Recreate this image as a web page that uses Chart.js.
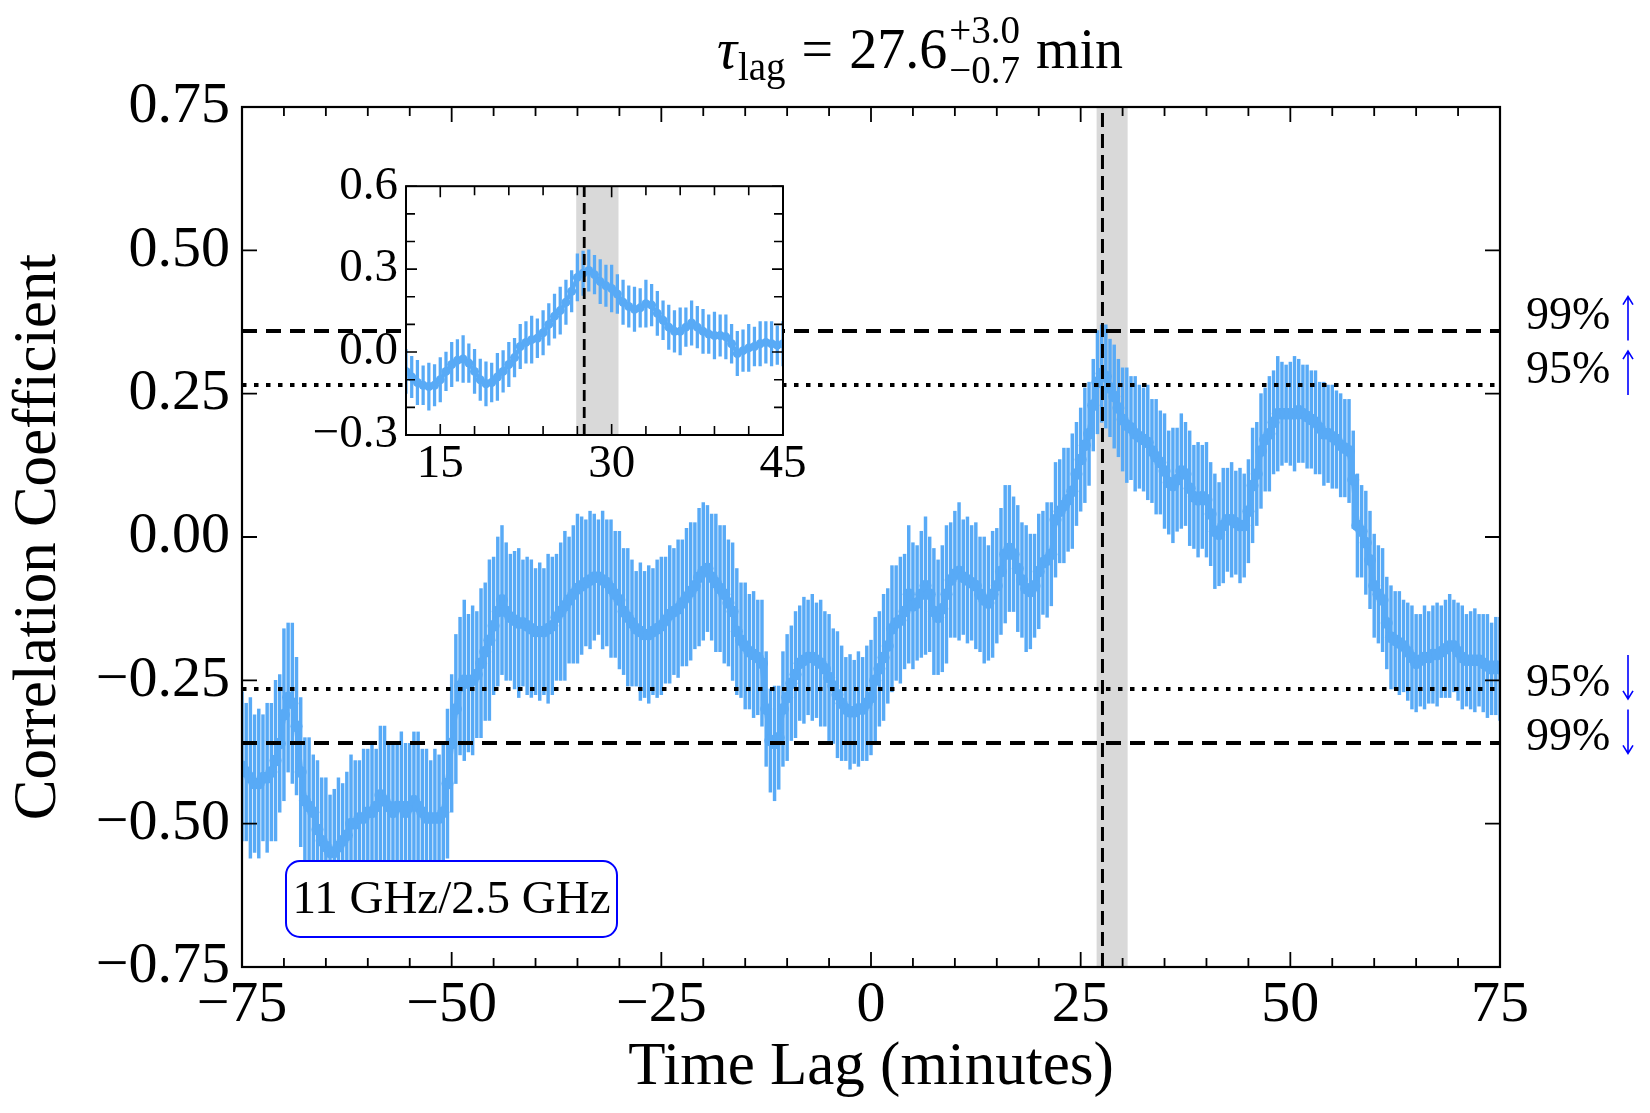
<!DOCTYPE html>
<html>
<head>
<meta charset="utf-8">
<script src="https://cdn.jsdelivr.net/npm/chart.js@4.4.0/dist/chart.umd.min.js"></script>
<style>
  html, body { margin: 0; padding: 0; background: #fff; }
  #wrap { position: relative; width: 1650px; height: 1113px; }
  #main { position: absolute; left: 0; top: 0; }
  #inset { position: absolute; left: 300px; top: 150px; }
</style>
</head>
<body>
<div id="wrap">
  <canvas id="main" width="1650" height="1113"></canvas>
  <canvas id="inset" width="520" height="340"></canvas>
</div>
<script>
// cross-correlation, lag grid -75..75 min every 0.5 min
const lagStart = -75;
const lagStep = 0.5;

const cc = [
  -0.40, -0.41, -0.42, -0.43, -0.43, -0.42, -0.42, -0.41, -0.39, -0.36,
  -0.31, -0.28, -0.29, -0.33, -0.41, -0.46, -0.47, -0.48, -0.51, -0.53,
  -0.54, -0.55, -0.55, -0.54, -0.53, -0.52, -0.50, -0.50, -0.49, -0.49,
  -0.48, -0.48, -0.47, -0.45, -0.46, -0.47, -0.48, -0.47, -0.47, -0.48,
  -0.47, -0.46, -0.47, -0.48, -0.49, -0.49, -0.49, -0.49, -0.48, -0.43,
  -0.36, -0.30, -0.26, -0.25, -0.255, -0.25, -0.24, -0.22, -0.20, -0.18,
  -0.155, -0.13, -0.11, -0.13, -0.14, -0.145, -0.15, -0.15, -0.155, -0.16,
  -0.165, -0.165, -0.165, -0.16, -0.155, -0.14, -0.13, -0.12, -0.11, -0.10,
  -0.09, -0.085, -0.08, -0.075, -0.07, -0.07, -0.075, -0.08, -0.09, -0.10,
  -0.11, -0.13, -0.14, -0.15, -0.16, -0.165, -0.17, -0.17, -0.165, -0.16,
  -0.155, -0.145, -0.135, -0.13, -0.125, -0.115, -0.105, -0.095, -0.085, -0.07,
  -0.06, -0.055, -0.07, -0.08, -0.09, -0.10, -0.115, -0.13, -0.165, -0.18,
  -0.19, -0.20, -0.205, -0.21, -0.22, -0.30, -0.355, -0.36, -0.35, -0.30,
  -0.28, -0.255, -0.24, -0.22, -0.215, -0.21, -0.21, -0.215, -0.22, -0.23,
  -0.245, -0.26, -0.275, -0.29, -0.30, -0.305, -0.305, -0.30, -0.30, -0.29,
  -0.28, -0.25, -0.23, -0.21, -0.19, -0.16, -0.15, -0.145, -0.13, -0.10,
  -0.12, -0.115, -0.10, -0.085, -0.10, -0.13, -0.14, -0.125, -0.10, -0.075,
  -0.065, -0.06, -0.07, -0.075, -0.08, -0.085, -0.10, -0.11, -0.115, -0.10,
  -0.085, -0.06, -0.03, -0.02, -0.03, -0.055, -0.075, -0.09, -0.095, -0.085,
  -0.06, -0.045, -0.04, -0.03, 0.03, 0.045, 0.055, 0.065, 0.08, 0.11,
  0.135, 0.16, 0.18, 0.23, 0.27, 0.285, 0.28, 0.26, 0.245, 0.225,
  0.205, 0.195, 0.19, 0.18, 0.175, 0.17, 0.165, 0.15, 0.14, 0.13,
  0.115, 0.095, 0.09, 0.10, 0.115, 0.11, 0.085, 0.07, 0.065, 0.07,
  0.065, 0.04, 0.01, 0.005, 0.02, 0.03, 0.03, 0.025, 0.02, 0.02,
  0.045, 0.09, 0.11, 0.15, 0.17, 0.18, 0.20, 0.215, 0.215, 0.215,
  0.215, 0.215, 0.22, 0.215, 0.21, 0.205, 0.20, 0.19, 0.18, 0.18,
  0.175, 0.17, 0.16, 0.155, 0.15, 0.10, 0.02, 0.01, -0.01, -0.04,
  -0.085, -0.10, -0.11, -0.15, -0.175, -0.18, -0.185, -0.19, -0.20, -0.21,
  -0.22, -0.215, -0.21, -0.21, -0.205, -0.205, -0.20, -0.195, -0.19, -0.19,
  -0.20, -0.21, -0.215, -0.215, -0.215, -0.215, -0.22, -0.225, -0.23, -0.225,
  -0.23
];

const ccErr = [
  0.13, 0.12, 0.14, 0.12, 0.13, 0.11, 0.13, 0.12, 0.14, 0.12,
  0.15, 0.13, 0.14, 0.12, 0.13, 0.11, 0.12, 0.10, 0.12, 0.11,
  0.12, 0.10, 0.11, 0.12, 0.10, 0.11, 0.12, 0.11, 0.10, 0.12,
  0.11, 0.12, 0.10, 0.12, 0.13, 0.11, 0.12, 0.11, 0.13, 0.12,
  0.11, 0.12, 0.13, 0.11, 0.12, 0.10, 0.12, 0.11, 0.12, 0.13,
  0.12, 0.13, 0.12, 0.14, 0.12, 0.13, 0.11, 0.13, 0.12, 0.14,
  0.12, 0.13, 0.13, 0.12, 0.11, 0.12, 0.13, 0.11, 0.12, 0.12,
  0.11, 0.12, 0.11, 0.13, 0.12, 0.11, 0.12, 0.13, 0.11, 0.12,
  0.13, 0.12, 0.11, 0.12, 0.11, 0.10, 0.12, 0.11, 0.12, 0.11,
  0.12, 0.11, 0.12, 0.11, 0.10, 0.12, 0.11, 0.12, 0.11, 0.12,
  0.12, 0.11, 0.12, 0.11, 0.12, 0.11, 0.12, 0.12, 0.11, 0.12,
  0.12, 0.11, 0.11, 0.12, 0.11, 0.12, 0.11, 0.12, 0.11, 0.10,
  0.11, 0.10, 0.11, 0.10, 0.11, 0.10, 0.09, 0.10, 0.09, 0.10,
  0.11, 0.10, 0.11, 0.10, 0.11, 0.10, 0.11, 0.10, 0.11, 0.10,
  0.11, 0.10, 0.11, 0.10, 0.09, 0.10, 0.09, 0.10, 0.09, 0.10,
  0.10, 0.11, 0.10, 0.11, 0.10, 0.11, 0.10, 0.11, 0.10, 0.12,
  0.11, 0.10, 0.11, 0.12, 0.10, 0.11, 0.10, 0.11, 0.12, 0.10,
  0.11, 0.12, 0.10, 0.11, 0.10, 0.11, 0.10, 0.11, 0.10, 0.11,
  0.10, 0.11, 0.12, 0.11, 0.10, 0.11, 0.10, 0.11, 0.10, 0.09,
  0.10, 0.09, 0.10, 0.09, 0.10, 0.09, 0.10, 0.09, 0.10, 0.09,
  0.09, 0.10, 0.09, 0.08, 0.09, 0.085, 0.09, 0.085, 0.09, 0.085,
  0.09, 0.10, 0.09, 0.10, 0.09, 0.09, 0.10, 0.09, 0.10, 0.09,
  0.10, 0.09, 0.10, 0.09, 0.10, 0.09, 0.10, 0.09, 0.10, 0.09,
  0.10, 0.09, 0.10, 0.09, 0.10, 0.09, 0.10, 0.09, 0.10, 0.09,
  0.09, 0.10, 0.09, 0.10, 0.09, 0.10, 0.09, 0.10, 0.09, 0.085,
  0.09, 0.10, 0.09, 0.085, 0.09, 0.085, 0.09, 0.08, 0.09, 0.085,
  0.09, 0.085, 0.09, 0.085, 0.09, 0.085, 0.09, 0.08, 0.09, 0.085,
  0.09, 0.085, 0.09, 0.08, 0.09, 0.085, 0.09, 0.08, 0.085, 0.09,
  0.085, 0.08, 0.09, 0.08, 0.085, 0.09, 0.08, 0.085, 0.09, 0.08,
  0.085, 0.09, 0.08, 0.085, 0.09, 0.08, 0.085, 0.09, 0.08, 0.085,
  0.09
];

// inset: 12..45 min every 0.5 min
const insetStart = 12;
const insetCc = [
  -0.07, -0.09, -0.11, -0.12, -0.125, -0.12, -0.10, -0.07, -0.045, -0.03,
  -0.025, -0.04, -0.07, -0.10, -0.115, -0.11, -0.09, -0.07, -0.045, -0.02,
  0.02, 0.035, 0.045, 0.05, 0.07, 0.10, 0.13, 0.15, 0.18, 0.22,
  0.27, 0.285, 0.295, 0.28, 0.255, 0.24, 0.23, 0.21, 0.18, 0.165,
  0.155, 0.16, 0.175, 0.17, 0.14, 0.115, 0.09, 0.075, 0.075, 0.09,
  0.105, 0.09, 0.075, 0.065, 0.06, 0.06, 0.055, 0.03, -0.005, 0.005,
  0.015, 0.02, 0.03, 0.035, 0.03, 0.025, 0.03
];
const insetErr = [
  0.08, 0.075, 0.08, 0.07, 0.085, 0.075, 0.08, 0.07, 0.08, 0.075,
  0.085, 0.07, 0.08, 0.075, 0.08, 0.07, 0.085, 0.075, 0.08, 0.07,
  0.08, 0.075, 0.085, 0.07, 0.08, 0.075, 0.08, 0.085, 0.08, 0.075,
  0.085, 0.08, 0.075, 0.07, 0.08, 0.075, 0.085, 0.07, 0.08, 0.075,
  0.08, 0.07, 0.085, 0.075, 0.08, 0.07, 0.08, 0.075, 0.085, 0.07,
  0.08, 0.075, 0.08, 0.07, 0.085, 0.075, 0.08, 0.07, 0.08, 0.075,
  0.085, 0.07, 0.08, 0.075, 0.08, 0.07, 0.08
];

// lag result and significance levels
const lagBest = 27.6;
const lagLo = 26.9;
const lagHi = 30.6;
const sigLevels = [0.36, 0.265, -0.265, -0.36];
const sigLabels = ['99%', '95%', '95%', '99%'];
const sigDashed = [true, false, false, true];

const xMajor = [-75, -50, -25, 0, 25, 50, 75];
const xMinor = [-70, -65, -60, -55, -45, -40, -35, -30, -20, -15, -10, -5,
                5, 10, 15, 20, 30, 35, 40, 45, 55, 60, 65, 70];
const yMajor = [-0.75, -0.5, -0.25, 0, 0.25, 0.5, 0.75];
const insetXMajor = [15, 30, 45];
const insetXMinor = [18, 21, 24, 27, 33, 36, 39, 42];
const insetYMajor = [-0.3, 0, 0.3, 0.6];
const insetYMinor = [-0.2, -0.1, 0.1, 0.2, 0.4, 0.5];

const serif = '"Liberation Serif", "DejaVu Serif", serif';
const blue = 'rgb(88,170,246)';

function fmt(v, d) {
  const s = Math.abs(v).toFixed(d);
  return v < -1e-9 ? '\u2212' + s : s;
}

const lags = cc.map((_, i) => lagStart + i * lagStep);
const insetLags = insetCc.map((_, i) => insetStart + i * lagStep);

function drawFrameTicks(chart, o) {
  const {ctx, chartArea: a, scales: {x, y}} = chart;
  ctx.save();
  ctx.strokeStyle = '#000';
  ctx.setLineDash([]);
  ctx.lineWidth = o.tickWidth;
  ctx.beginPath();
  const xt = (vals, len) => vals.forEach(v => {
    const px = x.getPixelForValue(v);
    ctx.moveTo(px, a.bottom); ctx.lineTo(px, a.bottom - len);
    ctx.moveTo(px, a.top); ctx.lineTo(px, a.top + len);
  });
  const yt = (vals, len) => vals.forEach(v => {
    const py = y.getPixelForValue(v);
    ctx.moveTo(a.left, py); ctx.lineTo(a.left + len, py);
    ctx.moveTo(a.right, py); ctx.lineTo(a.right - len, py);
  });
  xt(o.xMajor, o.major); xt(o.xMinor, o.minor);
  yt(o.yMajor, o.major); yt(o.yMinor, o.minor);
  ctx.stroke();
  ctx.lineWidth = o.frameWidth;
  ctx.strokeRect(a.left, a.top, a.right - a.left, a.bottom - a.top);
  ctx.restore();
}

function drawBand(chart) {
  const {ctx, chartArea: a, scales: {x}} = chart;
  const x0 = x.getPixelForValue(lagLo), x1 = x.getPixelForValue(lagHi);
  ctx.save();
  ctx.fillStyle = '#d9d9d9';
  ctx.fillRect(x0, a.top, x1 - x0, a.bottom - a.top);
  ctx.restore();
}

function drawLagLine(chart, w, dash) {
  const {ctx, chartArea: a, scales: {x}} = chart;
  const px = x.getPixelForValue(lagBest);
  ctx.save();
  ctx.beginPath();
  ctx.rect(a.left, a.top, a.right - a.left, a.bottom - a.top);
  ctx.clip();
  ctx.strokeStyle = '#000';
  ctx.lineWidth = w;
  ctx.setLineDash(dash);
  ctx.beginPath();
  ctx.moveTo(px, a.bottom);
  ctx.lineTo(px, a.top);
  ctx.stroke();
  ctx.restore();
}

const mainDecor = {
  id: 'mainDecor',
  beforeDatasetsDraw(chart) { drawBand(chart); },
  afterDatasetsDraw(chart) {
    const {ctx, chartArea: a, scales: {y}} = chart;
    ctx.save();
    ctx.strokeStyle = '#000';
    sigLevels.forEach((v, i) => {
      const py = Math.round(y.getPixelForValue(v));
      ctx.lineWidth = 4;
      ctx.setLineDash(sigDashed[i] ? [15, 9] : [4.5, 7.5]);
      ctx.beginPath();
      ctx.moveTo(a.left, py);
      ctx.lineTo(a.right, py);
      ctx.stroke();
    });
    ctx.restore();
    drawLagLine(chart, 3, [14, 7]);
    drawFrameTicks(chart, {xMajor, xMinor, yMajor, yMinor: [], major: 15, minor: 9, tickWidth: 1.8, frameWidth: 2.2});

    // band label box
    ctx.save();
    const bx = 286, by = 861, bw = 331, bh = 76;
    ctx.beginPath();
    ctx.roundRect(bx, by, bw, bh, 14);
    ctx.fillStyle = '#fff';
    ctx.fill();
    ctx.strokeStyle = '#0000ff';
    ctx.lineWidth = 2;
    ctx.stroke();
    ctx.fillStyle = '#000';
    ctx.font = '47px ' + serif;
    ctx.textAlign = 'center';
    ctx.textBaseline = 'middle';
    ctx.fillText('11 GHz/2.5 GHz', bx + bw / 2, by + bh / 2 + 2);
    ctx.restore();
  },
  afterDraw(chart) {
    const {ctx, scales: {y}} = chart;
    ctx.save();
    // significance labels with arrows
    ctx.font = '46px ' + serif;
    ctx.textBaseline = 'middle';
    ctx.textAlign = 'left';
    sigLevels.forEach((v, i) => {
      const py = y.getPixelForValue(v);
      const up = v > 0;
      ctx.fillStyle = '#000';
      ctx.fillText(sigLabels[i], 1526, py + (up ? -14 : -5));
      const cy = py - 12, ax = 1628, half = 22;
      const tip = up ? cy - half : cy + half;
      const tail = up ? cy + half : cy - half;
      const hd = up ? 8 : -8;
      ctx.strokeStyle = '#0000ff';
      ctx.lineWidth = 1.6;
      ctx.setLineDash([]);
      ctx.beginPath();
      ctx.moveTo(ax, tail); ctx.lineTo(ax, tip);
      ctx.moveTo(ax - 5, tip + hd); ctx.lineTo(ax, tip); ctx.lineTo(ax + 5, tip + hd);
      ctx.stroke();
    });

    // title: tau_lag = 27.6 (+3.0 / -0.7) min
    const big = '56px ' + serif, small = '39px ' + serif;
    ctx.font = 'italic ' + big; const wTau = ctx.measureText('\u03c4').width;
    ctx.font = small; const wLag = ctx.measureText('lag').width;
    ctx.font = big;
    const wEq = ctx.measureText('=').width;
    const wNum = ctx.measureText('27.6').width;
    const wMin = ctx.measureText('min').width;
    ctx.font = small; const wSc = Math.max(ctx.measureText('+3.0').width, ctx.measureText('\u22120.7').width);
    const gap = 16;
    const total = wTau + 1 + wLag + gap + wEq + gap + wNum + 2 + wSc + gap + wMin;
    let tx = 920 - total / 2;
    const base = 68;
    ctx.textAlign = 'left';
    ctx.textBaseline = 'alphabetic';
    ctx.fillStyle = '#000';
    ctx.font = 'italic ' + big; ctx.fillText('\u03c4', tx, base); tx += wTau + 1;
    ctx.font = small; ctx.fillText('lag', tx, base + 12); tx += wLag + gap;
    ctx.font = big; ctx.fillText('=', tx, base); tx += wEq + gap;
    ctx.fillText('27.6', tx, base); tx += wNum + 2;
    ctx.font = small; ctx.fillText('+3.0', tx, base - 25); ctx.fillText('\u22120.7', tx, base + 15); tx += wSc + gap;
    ctx.font = big; ctx.fillText('min', tx, base);
    ctx.restore();
  }
};

const insetDecor = {
  id: 'insetDecor',
  beforeDraw(chart) {
    const {ctx, chartArea: a} = chart;
    ctx.save();
    ctx.fillStyle = '#fff';
    ctx.fillRect(a.left, a.top, a.right - a.left, a.bottom - a.top);
    ctx.restore();
  },
  beforeDatasetsDraw(chart) { drawBand(chart); },
  afterDatasetsDraw(chart) {
    drawLagLine(chart, 2.8, [11, 6]);
    drawFrameTicks(chart, {xMajor: insetXMajor, xMinor: insetXMinor, yMajor: insetYMajor, yMinor: insetYMinor, major: 11, minor: 9, tickWidth: 1.6, frameWidth: 2});
  }
};

function errData(xs, ys, es) {
  return xs.map((x, i) => ({x: x, y: [ys[i] - es[i], ys[i] + es[i]]}));
}
function ptData(xs, ys) {
  return xs.map((x, i) => ({x: x, y: ys[i]}));
}

new Chart('main', {
  type: 'bar',
  data: {
    datasets: [
      {type: 'line', data: ptData(lags, cc), borderColor: blue, borderWidth: 5,
       pointRadius: 6, pointBackgroundColor: blue, pointBorderWidth: 0, clip: 0, order: 1},
      {type: 'bar', data: errData(lags, cc, ccErr), backgroundColor: blue,
       barThickness: 2.8, clip: 0, order: 2}
    ]
  },
  options: {
    responsive: false,
    animation: false,
    events: [],
    layout: {padding: {left: 0, top: 107, right: 150, bottom: 0}},
    plugins: {legend: {display: false}, tooltip: {enabled: false}},
    scales: {
      x: {
        type: 'linear', min: -75, max: 75, offset: false,
        grid: {display: false, drawTicks: false}, border: {display: false},
        afterBuildTicks: s => { s.ticks = xMajor.map(v => ({value: v})); },
        afterFit: s => { s.height = 146; },
        ticks: {font: {family: serif, size: 58}, color: '#000', padding: 4,
                maxRotation: 0, autoSkip: false, callback: v => fmt(v, 0)},
        title: {display: true, text: 'Time Lag (minutes)', color: '#000',
                font: {family: serif, size: 61}, padding: {top: 0, bottom: 8}}
      },
      y: {
        type: 'linear', min: -0.75, max: 0.75,
        grid: {display: false, drawTicks: false}, border: {display: false},
        afterBuildTicks: s => { s.ticks = yMajor.map(v => ({value: v})); },
        afterFit: s => { s.width = 242; },
        ticks: {font: {family: serif, size: 58}, color: '#000', padding: 12,
                autoSkip: false, callback: v => fmt(v, 2)},
        title: {display: true, text: 'Correlation Coefficient', color: '#000',
                font: {family: serif, size: 61}, padding: {top: 2, bottom: 0}}
      }
    }
  },
  plugins: [mainDecor]
});

new Chart('inset', {
  type: 'bar',
  data: {
    datasets: [
      {type: 'line', data: ptData(insetLags, insetCc), borderColor: blue, borderWidth: 4,
       pointRadius: 4.5, pointBackgroundColor: blue, pointBorderWidth: 0, clip: 0, order: 1},
      {type: 'bar', data: errData(insetLags, insetCc, insetErr), backgroundColor: blue,
       barThickness: 2.6, clip: 0, order: 2}
    ]
  },
  options: {
    responsive: false,
    animation: false,
    events: [],
    layout: {padding: {left: 0, top: 27, right: 37, bottom: 0}},
    plugins: {legend: {display: false}, tooltip: {enabled: false}},
    scales: {
      x: {
        type: 'linear', min: 12, max: 45, offset: false,
        grid: {display: false, drawTicks: false}, border: {display: false},
        afterBuildTicks: s => { s.ticks = insetXMajor.map(v => ({value: v})); },
        afterFit: s => { s.height = 55; },
        ticks: {font: {family: serif, size: 47}, color: '#000', padding: 1,
                maxRotation: 0, autoSkip: false, callback: v => fmt(v, 0)}
      },
      y: {
        type: 'linear', min: -0.3, max: 0.6,
        grid: {display: false, drawTicks: false}, border: {display: false},
        afterBuildTicks: s => { s.ticks = insetYMajor.map(v => ({value: v})); },
        afterFit: s => { s.width = 106; },
        ticks: {font: {family: serif, size: 47}, color: '#000', padding: 8,
                autoSkip: false, callback: v => fmt(v, 1)}
      }
    }
  },
  plugins: [insetDecor]
});
</script>
</body>
</html>
